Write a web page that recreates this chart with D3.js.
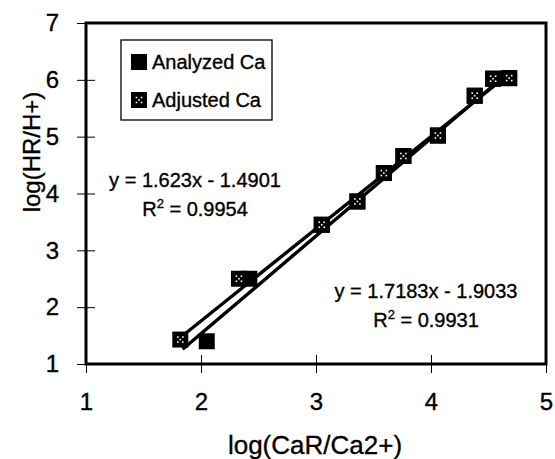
<!DOCTYPE html>
<html>
<head>
<meta charset="utf-8">
<script src="https://cdn.jsdelivr.net/npm/d3@7"></script>
<style>
  html, body { margin: 0; padding: 0; background: #fff; }
  svg { display: block; font-family: Arial, "Liberation Sans", sans-serif; }
  text { stroke: #000; stroke-width: 0.35px; }
</style>
</head>
<body>
<svg id="chart" width="555" height="459"></svg>
<script>
// ---- data ----
const seriesNames = ["Analyzed Ca", "Adjusted Ca"];
const analyzedX = [2.05, 2.42, 3.05, 3.36, 3.59, 3.76, 4.06, 4.38, 4.54, 4.68];
const analyzedY = [1.40, 2.50, 3.45, 3.86, 4.36, 4.66, 5.02, 5.72, 6.02, 6.03];
const adjustedX = [1.82, 2.33, 3.05, 3.36, 3.59, 3.76, 4.06, 4.38, 4.54, 4.68];
const adjustedY = [1.43, 2.50, 3.45, 3.86, 4.36, 4.66, 5.02, 5.72, 6.02, 6.03];
// trendline coefficients [slope, intercept] and x-range
const trendAnalyzed = [1.7183, -1.9033];
const trendAdjusted = [1.623, -1.4901];
const trendRange = [1.84, 4.68];
const eqLabels = ["y = 1.7183x - 1.9033", "y = 1.623x - 1.4901"];
const r2Labels = ["0.9931", "0.9954"];
const xTicks = [1, 2, 3, 4, 5];
const yTicks = [1, 2, 3, 4, 5, 6, 7];
const xTitle = "log(CaR/Ca2+)";
const yTitle = "log(HR/H+)";

// ---- layout ----
const svg = d3.select("#chart");
const L = 86, T = 23, R = 546, B = 364;
const x = d3.scaleLinear().domain([1, 5]).range([L, R]);
const y = d3.scaleLinear().domain([1, 7]).range([B, T]);
const FF = "Arial, 'Liberation Sans', sans-serif";

// y axis ticks (crossing)
const yAxis = svg.append("g").attr("transform", `translate(${L},0)`)
  .call(d3.axisLeft(y).tickValues(yTicks).tickFormat(d3.format("d")).tickSize(9).tickPadding(18));
yAxis.select(".domain").remove();
yAxis.selectAll(".tick line").attr("x1", -9).attr("x2", 9).attr("stroke", "#000").attr("stroke-width", 1);
yAxis.selectAll(".tick text").attr("font-size", 24).attr("fill", "#000").attr("font-family", FF);

const xAxis = svg.append("g").attr("transform", `translate(0,${B})`)
  .call(d3.axisBottom(x).tickValues(xTicks).tickFormat(d3.format("d")).tickSize(9).tickPadding(20));
xAxis.select(".domain").remove();
xAxis.selectAll(".tick line").attr("y1", -9).attr("y2", 9).attr("stroke", "#000").attr("stroke-width", 1);
xAxis.selectAll(".tick text").attr("font-size", 24).attr("fill", "#000").attr("font-family", FF);

// frame
svg.append("rect").attr("x", L).attr("y", T).attr("width", R - L).attr("height", B - T)
  .attr("fill", "none").attr("stroke", "#000").attr("stroke-width", 3);

// trendlines
const line = d3.line().x(d => x(d[0])).y(d => y(d[1]));
[trendAnalyzed, trendAdjusted].forEach(c => {
  const pts = trendRange.map(v => [v, c[0] * v + c[1]]);
  svg.append("path").attr("d", line(pts)).attr("stroke", "#000").attr("stroke-width", 3.4).attr("fill", "none");
});

// markers
const S = 16;
function solidMarker(g, cx, cy) {
  g.append("rect").attr("x", cx - S / 2).attr("y", cy - S / 2).attr("width", S).attr("height", S)
    .attr("fill", "#000");
}
function dottedMarker(g, cx, cy) {
  g.append("rect").attr("x", cx - S / 2).attr("y", cy - S / 2).attr("width", S).attr("height", S)
    .attr("fill", "#000");
  const dots = [[-2.5, -2.5], [2.5, -2.5], [0, 0], [-2.5, 2.5], [2.5, 2.5]];
  dots.forEach(d => g.append("rect").attr("x", cx + d[0] - 0.8).attr("y", cy + d[1] - 0.8)
    .attr("width", 1.6).attr("height", 1.6).attr("fill", "#fff"));
}
const mg = svg.append("g");
analyzedX.forEach((v, i) => solidMarker(mg, x(v), y(analyzedY[i])));
adjustedX.forEach((v, i) => dottedMarker(mg, x(v), y(adjustedY[i])));

// equation labels
function eq(cx, cy, eqText, r2) {
  svg.append("text").attr("x", cx).attr("y", cy).attr("text-anchor", "middle")
    .attr("font-size", 20).attr("fill", "#000").text(eqText);
  const t = svg.append("text").attr("x", cx).attr("y", cy + 29).attr("text-anchor", "middle")
    .attr("font-size", 20).attr("fill", "#000");
  t.append("tspan").text("R");
  t.append("tspan").attr("font-size", 13).attr("dy", -8).text("2");
  t.append("tspan").attr("dy", 8).text(" = " + r2);
}
eq(195, 187, eqLabels[1], r2Labels[1]);
eq(426, 298, eqLabels[0], r2Labels[0]);

// legend
svg.append("rect").attr("x", 121).attr("y", 40).attr("width", 151).attr("height", 80)
  .attr("fill", "#fff").attr("stroke", "#000").attr("stroke-width", 1.3);
const lg = svg.append("g");
solidMarker(lg, 139, 62);
dottedMarker(lg, 139, 100);
lg.append("text").attr("x", 152).attr("y", 69).attr("font-size", 20).attr("fill", "#000").text(seriesNames[0]);
lg.append("text").attr("x", 152).attr("y", 107).attr("font-size", 20).attr("fill", "#000").text(seriesNames[1]);

// axis titles
svg.append("text").attr("x", 315).attr("y", 454).attr("text-anchor", "middle")
  .attr("font-size", 26).attr("fill", "#000").text(xTitle);
svg.append("text").attr("transform", "translate(40,152) rotate(-90)").attr("text-anchor", "middle")
  .attr("font-size", 24).attr("fill", "#000").text(yTitle);
</script>
</body>
</html>
